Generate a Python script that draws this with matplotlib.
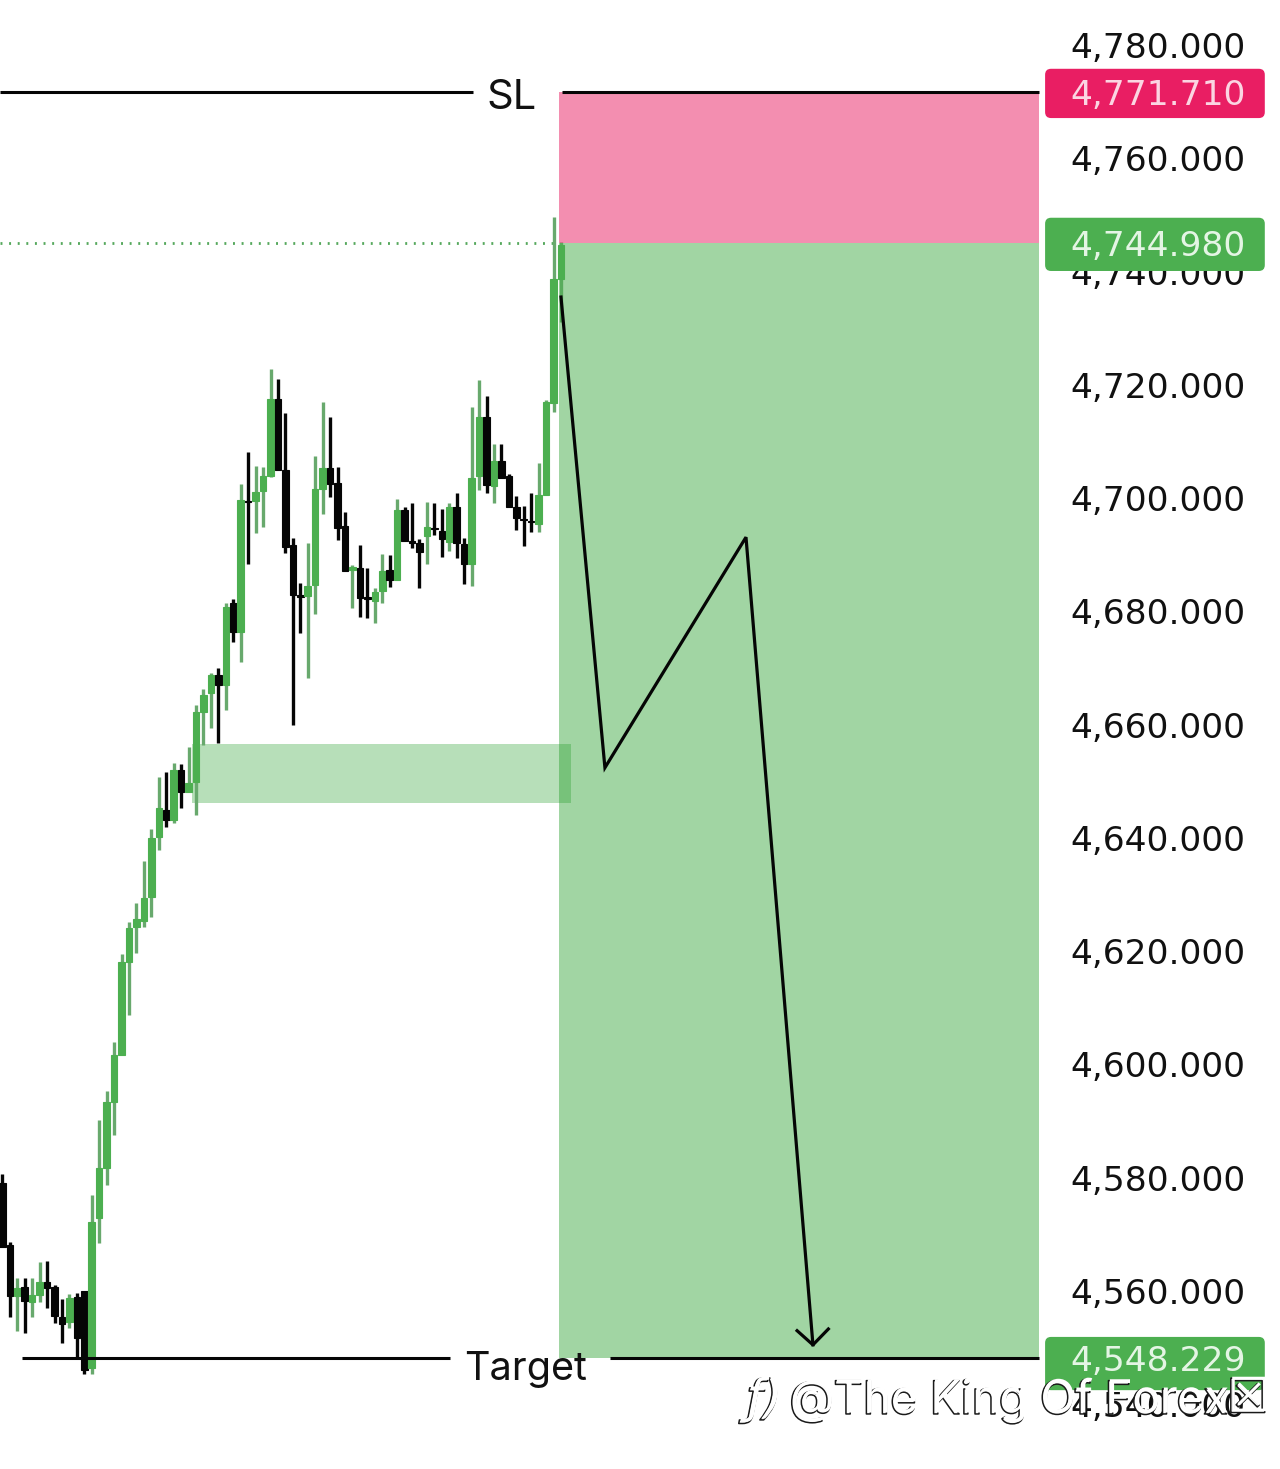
import matplotlib
matplotlib.use("Agg")
import matplotlib.pyplot as plt
import matplotlib.patheffects as pe
from matplotlib.patches import FancyBboxPatch, Rectangle

plt.rcParams['font.family'] = ['Inter', 'DejaVu Sans']

# Candles, oldest first
opens = [4579.1, 4568.1, 4559.1, 4560.7, 4558.1, 4559.3, 4561.6, 4560.7, 4555.4, 4554.5,
         4559.0, 4560.0, 4546.4, 4572.9, 4581.7, 4593.4, 4601.7, 4618.1, 4624.3, 4625.3,
         4629.6, 4640.2, 4644.9, 4643.2, 4652.0, 4648.1, 4649.9, 4662.2, 4665.6, 4668.8,
         4667.0, 4681.5, 4676.4, 4699.5, 4699.5, 4701.3, 4703.9, 4717.5, 4705.0, 4691.7,
         4682.9, 4682.7, 4684.7, 4701.6, 4705.3, 4702.7, 4695.1, 4687.3, 4687.7, 4682.6,
         4681.8, 4683.6, 4687.3, 4685.6, 4697.9, 4692.4, 4692.1, 4693.3, 4694.7, 4694.2,
         4692.3, 4698.4, 4691.9, 4688.4, 4703.9, 4714.3, 4702.1, 4706.6, 4703.9, 4698.4,
         4696.3, 4696.0, 4695.4, 4700.6, 4716.8, 4738.7]
highs = [4580.7, 4568.7, 4562.3, 4562.3, 4562.3, 4565.1, 4565.3, 4561.1, 4558.6, 4559.5,
         4559.7, 4560.0, 4577.0, 4590.2, 4595.3, 4604.0, 4619.5, 4625.2, 4628.5, 4635.9,
         4641.6, 4650.8, 4651.7, 4653.2, 4653.1, 4656.1, 4663.5, 4666.3, 4669.1, 4670.0,
         4681.5, 4682.2, 4702.5, 4708.1, 4705.7, 4705.5, 4722.8, 4721.0, 4715.0, 4693.0,
         4685.0, 4692.1, 4707.4, 4717.0, 4714.3, 4705.5, 4697.6, 4688.2, 4691.7, 4687.7,
         4684.1, 4690.1, 4690.0, 4699.9, 4698.4, 4699.1, 4692.8, 4699.3, 4699.1, 4698.1,
         4699.1, 4700.9, 4693.0, 4716.1, 4720.9, 4718.0, 4709.6, 4709.6, 4704.3, 4700.4,
         4698.6, 4700.9, 4706.2, 4717.3, 4749.6, 4745.2]
lows = [4567.8, 4555.4, 4553.0, 4552.6, 4555.4, 4558.1, 4557.0, 4554.4, 4550.8, 4553.5,
        4548.2, 4545.4, 4545.4, 4568.5, 4578.7, 4587.6, 4601.7, 4608.8, 4619.7, 4624.3,
        4626.1, 4637.9, 4641.9, 4642.7, 4645.3, 4648.1, 4644.1, 4656.4, 4659.4, 4656.8,
        4662.6, 4674.6, 4671.1, 4688.4, 4693.9, 4694.9, 4703.7, 4705.0, 4690.3, 4660.0,
        4676.2, 4668.2, 4679.5, 4697.2, 4700.2, 4692.6, 4687.1, 4680.6, 4679.0, 4678.8,
        4678.0, 4681.5, 4684.3, 4685.6, 4692.4, 4691.2, 4684.1, 4688.4, 4693.5, 4689.6,
        4690.7, 4689.4, 4684.8, 4684.5, 4701.4, 4700.9, 4699.1, 4703.6, 4698.4, 4694.4,
        4691.6, 4694.0, 4694.0, 4700.6, 4715.2, 4731.1]
closes = [4567.8, 4559.1, 4560.6, 4558.3, 4559.3, 4561.6, 4560.6, 4555.6, 4554.2, 4558.8,
          4551.7, 4546.1, 4572.2, 4581.7, 4593.4, 4601.7, 4618.1, 4624.1, 4625.7, 4629.4,
          4640.0, 4645.3, 4643.2, 4652.0, 4648.1, 4649.7, 4662.2, 4665.2, 4668.8, 4667.0,
          4680.8, 4676.4, 4699.7, 4699.3, 4701.1, 4703.9, 4717.5, 4705.0, 4691.4, 4682.9,
          4682.6, 4684.5, 4701.6, 4705.3, 4702.5, 4694.7, 4687.1, 4687.8, 4682.4, 4682.2,
          4683.4, 4687.1, 4685.6, 4697.9, 4692.4, 4692.1, 4690.5, 4694.9, 4694.6, 4692.8,
          4698.4, 4692.1, 4688.4, 4703.6, 4714.3, 4702.3, 4706.6, 4703.6, 4698.4, 4696.5,
          4696.1, 4695.8, 4700.6, 4717.0, 4738.7, 4744.7]

price_ticks = [4780, 4760, 4740, 4720, 4700, 4680, 4660, 4640, 4620, 4600, 4580, 4560, 4540]

stop_loss = 4771.71
last_price = 4744.98
target = 4548.229

# Demand zone and the projected path, as (bar, price)
zone_bars = [25.4, 76.4]
zone_prices = [4646.1, 4656.5]
path_bars = [75.0, 80.9, 99.84, 108.83]
path_prices = [4735.5, 4652.4, 4693.1, 4550.5]
head_bars = [106.7, 108.83, 110.9]
head_prices = [4553.0, 4550.5, 4553.3]

BODY_UP = '#4caf50'
WICK_UP = '#68a96d'
BLACK = '#050505'
PRICE_FONT = ['DejaVu Sans']

fig = plt.figure(figsize=(12.8, 14.69), dpi=100)
ax = fig.add_axes([0, 0, 1, 1])
ax.set_xlim(-0.322, 171.54)
ax.set_ylim(4528.58, 4787.945)
ax.axis('off')

box_left, box_right = 74.73, 139.2

# Candles
for i in range(len(opens)):
    up = closes[i] >= opens[i]
    ax.vlines(i, lows[i], highs[i], color=WICK_UP if up else BLACK, lw=2.4, zorder=2)
    ax.bar(i, abs(closes[i] - opens[i]), bottom=min(opens[i], closes[i]), width=0.88,
           color=BODY_UP if up else BLACK, zorder=3, lw=0.8,
           edgecolor=BODY_UP if up else BLACK)

# Risk and reward boxes
ax.add_patch(Rectangle((box_left, last_price), box_right - box_left, stop_loss - last_price,
                       fc='#e91e63', alpha=0.5, lw=0, zorder=4))
ax.add_patch(Rectangle((box_left, target), box_right - box_left, last_price - target,
                       fc='#4caf50', alpha=0.52, lw=0, zorder=4))
ax.add_patch(Rectangle((zone_bars[0], zone_prices[0]), zone_bars[1] - zone_bars[0],
                       zone_prices[1] - zone_prices[0], fc='#4caf50', alpha=0.4, lw=0, zorder=1))
ax.add_patch(Rectangle((box_left, zone_prices[0]), zone_bars[1] - box_left,
                       zone_prices[1] - zone_prices[0], fc='#4caf50', alpha=0.15, lw=0, zorder=5))

# Level lines
ax.hlines(last_price, -0.322, 74.7, color='#55a85c', lw=2, linestyles=(0, (0.7, 2.4)), zorder=1)
for x0, x1 in [(-0.322, 63.2), (75.2, box_right)]:
    ax.hlines(stop_loss, x0, x1, color=BLACK, lw=2.2, zorder=6)
for x0, x1 in [(2.6, 60.1), (81.6, box_right)]:
    ax.hlines(target, x0, x1, color=BLACK, lw=2.2, zorder=6)
ax.text(68.4, stop_loss - 1.0, 'SL', fontsize=30, ha='center', va='center', color='#111111')
ax.text(70.2, target - 2.0, 'Target', fontsize=28.5, ha='center', va='center', color='#111111', zorder=7)

# Projected move
ax.plot(path_bars, path_prices, color=BLACK, lw=2.3, zorder=6, solid_joinstyle='miter')
ax.plot(head_bars, head_prices, color=BLACK, lw=2.3, zorder=6)

# Price scale
label_x = 166.9
for p in price_ticks:
    ax.text(label_x, p, f'{p:,.3f}', fontsize=24.8, family=PRICE_FONT, ha='right',
            va='center_baseline', color='#111111', zorder=7)

# Price tags
for price, y0, y1, col in [(stop_loss, 4767.1, 4775.8, '#e91e63'),
                           (last_price, 4740.1, 4749.5, '#4caf50'),
                           (target, 4542.5, 4551.9, '#4caf50')]:
    ax.add_patch(FancyBboxPatch((140.0, y0), 29.5, y1 - y0,
                                boxstyle='round,pad=0,rounding_size=0.8', mutation_aspect=1.32,
                                fc=col, ec='none', zorder=8))
    ax.text(label_x, price, f'{price:,.3f}', fontsize=24.8, family=PRICE_FONT, ha='right',
            va='center_baseline', color='#e4f5e4' if col == '#4caf50' else '#fbd5e2', zorder=9)

# Account watermark
shadow = [pe.Stroke(linewidth=1.1, foreground='#1a1a1a', offset=(-1, -1)), pe.Normal()]
ax.text(102.4, 4540.8, 'ƒ)', fontsize=34, family=['DejaVu Sans'], style='italic', color='white',
        ha='center', va='center', path_effects=shadow, zorder=10)
ax.text(105.8, 4540.8, '@The King Of Forex', fontsize=33, color='white', ha='left', va='center',
        path_effects=shadow, zorder=10)
ax.text(167.4, 4541.0, '☒', fontsize=34, family=['DejaVu Sans'], color='white', ha='center',
        va='center', path_effects=shadow, zorder=10)

fig.savefig('out.png', dpi=100)
